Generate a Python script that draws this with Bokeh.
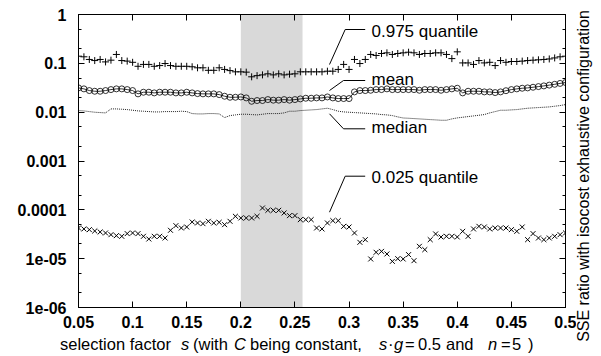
from bokeh.plotting import figure
from bokeh.layouts import column, row
from bokeh.models import (FixedTicker, LinearAxis, LogAxis, Label, BoxAnnotation,
                          CustomJSTickFormatter, Range1d, Div)
from bokeh.embed import file_html
from bokeh.resources import INLINE

# ---------------- data ----------------
S = [0.05, 0.055, 0.06, 0.065, 0.07, 0.075, 0.08, 0.085, 0.09, 0.095,
     0.1, 0.105, 0.11, 0.115, 0.12, 0.125, 0.13, 0.135, 0.14, 0.145,
     0.15, 0.155, 0.16, 0.165, 0.17, 0.175, 0.18, 0.185, 0.19, 0.195,
     0.2, 0.205, 0.21, 0.215, 0.22, 0.225, 0.23, 0.235, 0.24, 0.245,
     0.25, 0.255, 0.26, 0.265, 0.27, 0.275, 0.28, 0.285, 0.29, 0.295,
     0.3, 0.305, 0.31, 0.315, 0.32, 0.325, 0.33, 0.335, 0.34, 0.345,
     0.35, 0.355, 0.36, 0.365, 0.37, 0.375, 0.38, 0.385, 0.39, 0.395,
     0.4, 0.405, 0.41, 0.415, 0.42, 0.425, 0.43, 0.435, 0.44, 0.445,
     0.45, 0.455, 0.46, 0.465, 0.47, 0.475, 0.48, 0.485, 0.49, 0.495,
     0.5]

Q975 = [0.140, 0.136, 0.120, 0.114, 0.120, 0.107, 0.116, 0.152, 0.114, 0.111,
        0.105, 0.087, 0.095, 0.095, 0.087, 0.090, 0.099, 0.090, 0.087, 0.087,
        0.087, 0.085, 0.081, 0.081, 0.072, 0.072, 0.081, 0.075, 0.071, 0.067,
        0.067, 0.066, 0.053, 0.056, 0.058, 0.061, 0.058, 0.061, 0.058, 0.060,
        0.061, 0.067, 0.067, 0.067, 0.067, 0.067, 0.069, 0.069, 0.075, 0.095,
        0.075, 0.120, 0.099, 0.120, 0.152, 0.145, 0.159, 0.164, 0.152, 0.159,
        0.164, 0.169, 0.164, 0.152, 0.159, 0.159, 0.164, 0.164, 0.152, 0.125,
        0.172, 0.102, 0.102, 0.095, 0.114, 0.102, 0.105, 0.090, 0.114, 0.105,
        0.109, 0.109, 0.111, 0.114, 0.116, 0.118, 0.120, 0.123, 0.129, 0.136,
        0.140]

MEAN = [0.0314, 0.0300, 0.0277, 0.0268, 0.0268, 0.0277, 0.0290, 0.0300, 0.0300, 0.0290,
        0.0277, 0.0237, 0.0256, 0.0256, 0.0248, 0.0256, 0.0256, 0.0256, 0.0248, 0.0248,
        0.0256, 0.0248, 0.0240, 0.0237, 0.0237, 0.0237, 0.0229, 0.0212, 0.0202, 0.0202,
        0.0205, 0.0196, 0.0167, 0.0173, 0.0173, 0.0181, 0.0176, 0.0176, 0.0181, 0.0176,
        0.0181, 0.0187, 0.0193, 0.0193, 0.0196, 0.0196, 0.0205, 0.0196, 0.0190, 0.0190,
        0.0190, 0.0260, 0.0277, 0.0277, 0.0281, 0.0290, 0.0290, 0.0300, 0.0290, 0.0290,
        0.0290, 0.0290, 0.0290, 0.0281, 0.0290, 0.0290, 0.0290, 0.0281, 0.0290, 0.0300,
        0.0309, 0.0248, 0.0268, 0.0268, 0.0268, 0.0260, 0.0260, 0.0252, 0.0260, 0.0275,
        0.0290, 0.0300, 0.0309, 0.0314, 0.0324, 0.0334, 0.0345, 0.0358, 0.0372, 0.0388,
        0.0405]

MEDIAN = [0.01078, 0.01061, 0.01028, 0.00997, 0.00981, 0.00966, 0.01166, 0.01166, 0.01148, 0.01130,
          0.01095, 0.01061, 0.01045, 0.01028, 0.01012, 0.01012, 0.01028, 0.01028, 0.01028, 0.01045,
          0.01028, 0.00936, 0.00921, 0.00921, 0.00936, 0.00936, 0.00921, 0.00775, 0.00852, 0.00879,
          0.00907, 0.00907, 0.00893, 0.00879, 0.00907, 0.00936, 0.00936, 0.00936, 0.00966, 0.01045,
          0.01045, 0.01078, 0.01095, 0.01113, 0.01130, 0.01166, 0.01204, 0.01130, 0.01045, 0.01012,
          0.00997, 0.00981, 0.00966, 0.00951, 0.00936, 0.00921, 0.00893, 0.00879, 0.00852, 0.00800,
          0.00760, 0.00751, 0.00739, 0.00728, 0.00716, 0.00705, 0.00694, 0.00683, 0.00683, 0.00728,
          0.00763, 0.00787, 0.00812, 0.00838, 0.00865, 0.00893, 0.00966, 0.01028, 0.01095, 0.01095,
          0.01113, 0.01130, 0.01166, 0.01204, 0.01223, 0.01242, 0.01262, 0.01282, 0.01323, 0.01365,
          0.01431]

Q025 = [4.25e-5, 4.06e-5, 3.93e-5, 3.69e-5, 3.52e-5, 3.36e-5, 3.10e-5, 2.96e-5, 2.87e-5, 3.26e-5,
        3.36e-5, 3.26e-5, 2.87e-5, 2.53e-5, 2.87e-5, 2.87e-5, 2.65e-5, 3.81e-5, 4.74e-5, 4.25e-5,
        4.45e-5, 5.64e-5, 5.38e-5, 5.21e-5, 5.82e-5, 5.38e-5, 5.55e-5, 4.97e-5, 5.82e-5, 7.37e-5,
        6.81e-5, 6.81e-5, 6.81e-5, 7.37e-5, 1.09e-4, 9.78e-5, 9.78e-5, 9.78e-5, 8.63e-5, 7.61e-5,
        7.61e-5, 6.30e-5, 6.30e-5, 6.30e-5, 4.25e-5, 4.06e-5, 5.38e-5, 6.01e-5, 6.01e-5, 4.59e-5,
        4.45e-5, 3.36e-5, 2.16e-5, 2.45e-5, 9.85e-6, 1.35e-5, 1.41e-5, 1.25e-5, 8.81e-6, 1.00e-5,
        9.85e-6, 1.21e-5, 9.10e-6, 1.79e-5, 1.53e-5, 2.45e-5, 3.21e-5, 2.78e-5, 2.87e-5, 2.87e-5,
        2.78e-5, 3.63e-5, 2.87e-5, 4.06e-5, 4.59e-5, 4.45e-5, 4.06e-5, 4.25e-5, 4.25e-5, 4.25e-5,
        3.93e-5, 3.63e-5, 4.45e-5, 2.45e-5, 3.26e-5, 2.65e-5, 2.45e-5, 2.65e-5, 2.87e-5, 3.10e-5,
        3.36e-5]

X_TICKS = [0.05, 0.1, 0.15, 0.2, 0.25, 0.3, 0.35, 0.4, 0.45, 0.5]
X_TICK_LABELS = ["0.05", "0.1", "0.15", "0.2", "0.25", "0.3", "0.35", "0.4", "0.45", "0.5"]
Y_TICKS = [1e-6, 1e-5, 1e-4, 1e-3, 1e-2, 1e-1, 1.0]
Y_TICK_LABELS = ["1e-06", "1e-05", "0.0001", "0.001", "0.01", "0.1", "1"]
Y_MINOR = [m * 10.0 ** k for k in range(-6, 0) for m in (2, 5)]

SHADE_LEFT, SHADE_RIGHT = 0.2, 0.257

ANNOTATIONS = ["0.975 quantile", "mean", "median", "0.025 quantile"]
Y_LABEL = "SSE ratio with isocost exhaustive configuration"

# ---------------- layout ----------------
W1, HP, HD, WR = 576, 335, 19, 20
BL, BT, FW, FH = 78, 14, 487, 293
BR, BB = W1 - BL - FW, HP - BT - FH
X0, X1, Y0, Y1 = 0.05, 0.5, 1e-6, 1.0
OFF = 1
FONT = "Liberation Sans"


def px_x(X):
    """picture pixel -> data x"""
    return X0 + (X - OFF - BL) / FW * (X1 - X0)


def px_y(Y):
    """picture pixel -> data y (log)"""
    return 10 ** (-(Y - OFF - BT) / FH * 6)


p = figure(width=W1, height=HP, x_range=Range1d(X0, X1), y_range=Range1d(Y0, Y1),
           y_axis_type="log", output_backend="svg", toolbar_location=None, title=None,
           min_border_left=BL, min_border_right=BR, min_border_top=BT, min_border_bottom=BB,
           background_fill_color="white", border_fill_color="white")
p.grid.visible = False
p.outline_line_color = "black"
p.outline_line_width = 1


def fmt(vals, labels):
    return CustomJSTickFormatter(args=dict(vals=vals, labels=labels), code="""
        let best = 0, bd = Infinity;
        for (let i = 0; i < vals.length; i++) {
            const d = Math.abs(vals[i] - tick) / Math.abs(vals[i]);
            if (d < bd) { bd = d; best = i; }
        }
        return labels[best];
    """)


blank = CustomJSTickFormatter(code="return '';")

xt = FixedTicker(ticks=X_TICKS, minor_ticks=[])
yt = FixedTicker(ticks=Y_TICKS, minor_ticks=Y_MINOR)


def style(ax, labels=True):
    ax.axis_line_color = "black"
    ax.major_tick_line_color = "black"
    ax.minor_tick_line_color = "black"
    ax.major_tick_in = 6
    ax.major_tick_out = 0
    ax.minor_tick_in = 3
    ax.minor_tick_out = 0
    if labels:
        ax.major_label_text_font = FONT
        ax.major_label_text_font_style = "bold"
        ax.major_label_text_font_size = "16px"
        ax.major_label_text_color = "black"
    else:
        ax.major_label_text_font_size = "0px"
        ax.major_label_standoff = 0


xa = p.xaxis[0]
xa.ticker = xt
xa.formatter = fmt(X_TICKS, X_TICK_LABELS)
style(xa)
xa.major_label_standoff = 8

ya = p.yaxis[0]
ya.ticker = yt
ya.formatter = fmt(Y_TICKS, Y_TICK_LABELS)
style(ya)
ya.major_label_standoff = 12

top = LinearAxis(ticker=FixedTicker(ticks=X_TICKS, minor_ticks=[]), formatter=blank)
style(top, labels=False)
p.add_layout(top, "above")

right = LogAxis(ticker=FixedTicker(ticks=Y_TICKS, minor_ticks=Y_MINOR), formatter=blank)
style(right, labels=False)
p.add_layout(right, "right")

# shaded band
p.add_layout(BoxAnnotation(left=SHADE_LEFT, right=SHADE_RIGHT, fill_color="#d9d9d9",
                           fill_alpha=1.0, line_color=None, level="underlay"))

# series
p.line(S, MEDIAN, line_color="#222222", line_width=1, line_dash="1 1")
p.line(S, MEAN, line_color="black", line_width=0.8)
p.scatter(S, MEAN, marker="circle", size=6, fill_color=None, line_color="black", line_width=0.8)
p.scatter(S, Q975, marker="cross", size=7, line_color="black", line_width=1)
p.scatter(S, Q025, marker="x", size=7, line_color="black", line_width=1)

# leader lines and labels for the series
leaders = [
    [(330, 65), (345.7, 30), (365.7, 30)],
    [(330, 91), (344, 81), (365.7, 81)],
    [(330, 114.3), (344, 129.3), (365.7, 129.3)],
    [(330, 212.7), (345.7, 176.7), (365.7, 176.7)],
]
label_y = [32, 80, 128, 177.5]
for pts, ly, txt in zip(leaders, label_y, ANNOTATIONS):
    p.line([px_x(a) for a, b in pts], [px_y(b) for a, b in pts], line_color="black", line_width=1)
    p.add_layout(Label(x=px_x(372), y=px_y(ly), text=txt, text_font=FONT,
                       text_font_size="17px", text_baseline="middle", text_align="left",
                       text_color="black"))

# x-axis label (mixed italic), positioned segment by segment
xlab = [("selection factor", False, 61), ("s", True, 182), ("(with", False, 194),
        ("C", True, 235), ("being constant,", False, 251), ("s", True, 380),
        ("\u00b7", False, 389), ("g", True, 395), ("=", False, 406), ("0.5", False, 419),
        ("and", False, 447), ("n", True, 489), ("=", False, 502), ("5", False, 513),
        (")", False, 529)]
spans = "".join(
    '<span style="position:absolute;left:{}px;top:0;line-height:{}px;{}">{}</span>'.format(
        X - OFF, HD, "font-style:italic;" if it else "", txt)
    for txt, it, X in xlab)
xdiv = Div(text='<div style="position:relative;width:{}px;height:{}px;font-family:\'{}\';'
                'font-size:16.5px;color:black;white-space:nowrap;">{}</div>'.format(W1, HD, FONT, spans),
           width=W1, height=HD, margin=0)

# right-hand label, rotated to read bottom-to-top
ydiv = Div(text='<div style="position:relative;width:{w}px;height:{h}px;font-family:\'{f}\';'
                'font-size:16px;color:black;white-space:nowrap;">'
                '<span style="position:absolute;left:{cx}px;top:{cy}px;line-height:18px;'
                'transform:translate(-50%,-50%) rotate(-90deg);">{t}</span></div>'.format(
                    w=WR, h=HP + HD, f=FONT, cx=585 - OFF - W1, cy=176.7 - OFF, t=Y_LABEL),
           width=WR, height=HP + HD, margin=0)

layout = row(column(p, xdiv, spacing=0), ydiv, spacing=0)
open("out.html", "w").write(file_html(layout, INLINE))
